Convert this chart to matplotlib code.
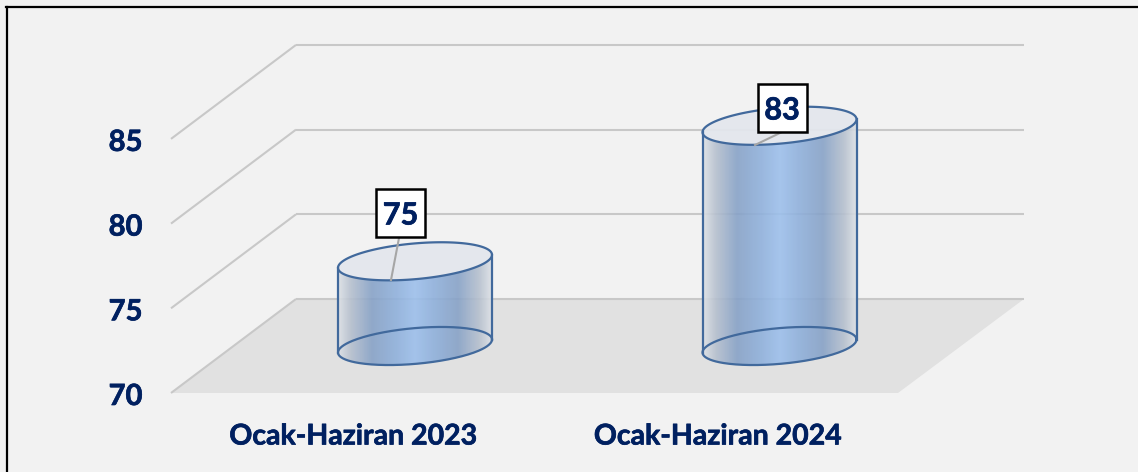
import numpy as np
import matplotlib
matplotlib.use("Agg")
import matplotlib.pyplot as plt
import matplotlib.patheffects as pe
from matplotlib.lines import Line2D
from matplotlib.patches import Polygon, Rectangle
from matplotlib.colors import LinearSegmentedColormap

categories = ["Ocak-Haziran 2023", "Ocak-Haziran 2024"]
values = [75, 83]
y_ticks = [70, 75, 80, 85]

W, H = 1138, 472
PX_PER_UNIT = 84.7 / 5
X0, DX = 415.0, 364.5   # pixel position of first category, pixel step
BG = "#f2f2f2"
NAVY = "#002060"
GRID = "#c8c8c8"
FLOOR = "#e1e1e1"
EDGE = "#41699c"
FS = 20.5

fig = plt.figure(figsize=(W / 100, H / 100), dpi=100, facecolor=BG)
ax = fig.add_axes([0, 0, 1, 1])
ax.set_xlim(-X0 / DX, (W - X0) / DX)
ax.set_ylim(70 - (H - 393) / PX_PER_UNIT, 70 + 393 / PX_PER_UNIT)
ax.axis("off")

ux = 1 / DX          # one pixel in x data units
uy = 1 / PX_PER_UNIT # one pixel in y data units
bold = [pe.withStroke(linewidth=0.5, foreground=NAVY)]


def px(x):
    return (x - X0) * ux


def py(y):
    return 70 + (393 - y) * uy


# floor
back = 94 * uy
floor = [(px(171), 70), (px(296), 70 + back), (px(1024), 70 + back), (px(898), 70)]
ax.add_patch(Polygon(floor, closed=True, fc=FLOOR, ec="none", zorder=1))

# side diagonal + back line per level
for lv in y_ticks:
    ax.plot([px(171), px(296)], [lv, lv + back], color=GRID, lw=1.5, zorder=2,
            solid_capstyle="butt")
    ax.plot([px(296), px(1024)], [lv + back, lv + back], color=GRID, lw=1.5, zorder=2,
            solid_capstyle="butt")

# cylinders
cmap = LinearSegmentedColormap.from_list(
    "cyl",
    [(0.0, "#dde1e6"), (0.08, "#b7c1cf"), (0.22, "#87a2c7"), (0.38, "#90b1dc"),
     (0.5, "#9dc0ec"), (0.62, "#90b1dc"), (0.78, "#87a2c7"), (0.92, "#b7c1cf"),
     (1.0, "#dde1e6")],
)
A, TILT, B = 77.0, 6.5, 17.9  # half width, tilt, minor height in pixels
t = np.linspace(0, 2 * np.pi, 241)
depth = 47 * uy  # centre of the bars in depth


def ellipse(i, level, tt=t):
    return (i + A * np.cos(tt) * ux,
            level + depth + (TILT * np.cos(tt) + B * np.sin(tt)) * uy)


for i, v in enumerate(values):
    x_b, y_b = ellipse(i, 70)
    x_t, y_t = ellipse(i, v)
    xl, yl = ellipse(i, 70, np.linspace(np.pi, 2 * np.pi, 121))
    xu, yu = ellipse(i, v, np.linspace(2 * np.pi, np.pi, 121))
    clip = Polygon(np.column_stack([np.r_[xl, xu], np.r_[yl, yu]]), closed=True,
                   transform=ax.transData, fc="none", ec="none")
    ax.add_patch(clip)
    grad = np.linspace(0, 1, 256).reshape(1, -1)
    im = ax.imshow(grad, cmap=cmap, aspect="auto", alpha=0.9, zorder=3,
                   extent=[i - A * ux, i + A * ux, 70 - 30 * uy, v + 80 * uy])
    im.set_clip_path(clip)
    ax.fill(x_t, y_t, fc=(0.89, 0.905, 0.93, 0.93), ec=EDGE, lw=1.6, zorder=4)
    ax.plot(x_b, y_b, color=EDGE, lw=1.6, zorder=5)
    for s in (-1, 1):
        ts = np.array([0.0 if s == 1 else np.pi])
        y0 = ellipse(i, 70, ts)[1][0]
        y1 = ellipse(i, v, ts)[1][0]
        ax.plot([i + s * A * ux] * 2, [y0, y1], color=EDGE, lw=1.6, zorder=5)

# value labels with leader lines (pixel anchors)
boxes = [(400.5, 213), (782, 108)]
anchors = [(391, 280), (755, 145)]
leader_ends = [(399, 238), (782, 132)]
for i, v in enumerate(values):
    ax.plot([px(anchors[i][0]), px(leader_ends[i][0])],
            [py(anchors[i][1]), py(leader_ends[i][1])],
            color="#a6a6a6", lw=1.5, zorder=6)
    cx, cy = px(boxes[i][0]), py(boxes[i][1])
    ax.add_patch(Rectangle((cx - 24.5 * ux, cy - 24 * uy), 49 * ux, 48 * uy, fc="white",
                           ec="black", lw=1.8, zorder=7))
    ax.text(cx, cy, str(v), ha="center", va="center_baseline", color=NAVY,
            fontsize=FS + 1.5, fontweight="bold", family="Lato", zorder=8, path_effects=bold)

# tick labels
for tk in y_ticks:
    ax.text(px(125.5), tk - 1.5 * uy, str(tk), ha="center", va="center_baseline", color=NAVY,
            fontsize=FS + 0.5, fontweight="bold", family="Lato", path_effects=bold)
for i, c in enumerate(categories):
    ax.text(i - 61.5 * ux, 70 - 41 * uy, c, ha="center", va="center_baseline",
            color=NAVY, fontsize=FS, fontweight="bold", family="Lato", path_effects=bold)

# frame: top and left edges only
fig.add_artist(Line2D([7 / W, 7 / W], [0, 1 - 7 / H], transform=fig.transFigure,
                      color="black", lw=1.6))
fig.add_artist(Line2D([6.2 / W, 1], [1 - 7 / H, 1 - 7 / H], transform=fig.transFigure,
                      color="black", lw=1.6))

fig.savefig("out.png", dpi=100, facecolor=BG)
